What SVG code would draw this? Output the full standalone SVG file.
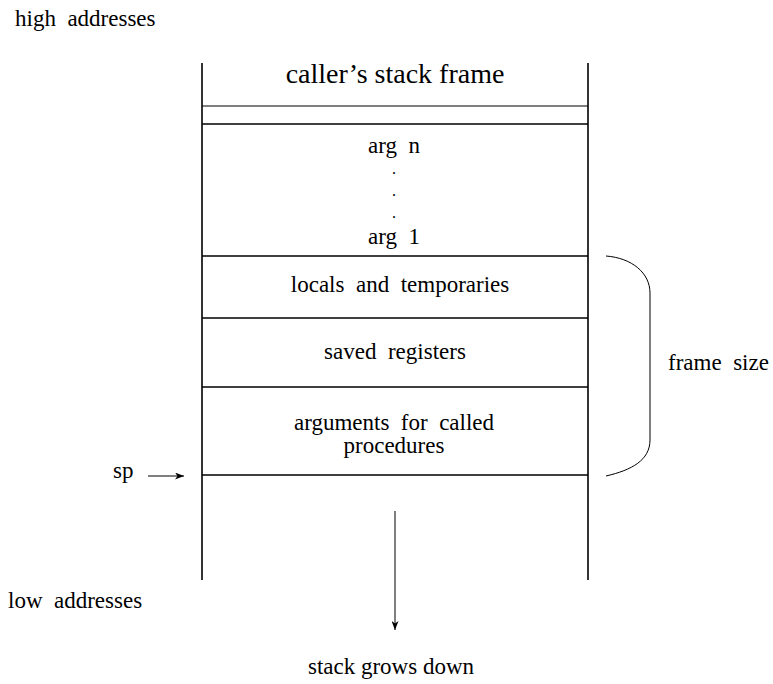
<svg xmlns="http://www.w3.org/2000/svg" width="773" height="684" viewBox="0 0 773 684">
<defs>
<style>
text{font-family:"Liberation Serif","Times New Roman",serif;font-size:23px;fill:#000;white-space:pre}
.c{text-anchor:middle}
.big{font-size:28px}
.dot{font-size:16px}
.ln{stroke:#000;stroke-width:1.6;fill:none}
.thin{stroke:#000;stroke-width:1;fill:none}
</style>
<marker id="ah" markerWidth="9" markerHeight="7" refX="9" refY="3.5" orient="auto" markerUnits="userSpaceOnUse">
<path d="M0,0 L9,3.5 L0,7 L2.5,3.5 Z" fill="#000"/>
</marker>
</defs>
<rect width="773" height="684" fill="#fff"/>
<text x="15" y="26">high  addresses</text>
<text x="8" y="608">low  addresses</text>
<g id="stack">
<line class="ln" x1="202" y1="63" x2="202" y2="580"/>
<line class="ln" x1="588" y1="63" x2="588" y2="580"/>
<line class="thin" x1="202" y1="106" x2="588" y2="106"/>
</g>
<g id="caller"><text class="c big" x="395" y="83">caller’s stack frame</text></g>
<g id="args">
<line class="ln" x1="202" y1="124" x2="588" y2="124"/>
<text class="c" x="394" y="153">arg  n</text>
<text class="c dot" x="394" y="174">.</text>
<text class="c dot" x="394" y="196">.</text>
<text class="c dot" x="394" y="218">.</text>
<text class="c" x="394" y="244">arg  1</text>
</g>
<g id="locals">
<line class="ln" x1="202" y1="256" x2="588" y2="256"/>
<text class="c" x="400" y="292">locals  and  temporaries</text>
</g>
<g id="saved">
<line class="ln" x1="202" y1="318" x2="588" y2="318"/>
<text class="c" x="395" y="359">saved  registers</text>
</g>
<g id="argsout">
<line class="ln" x1="202" y1="387" x2="588" y2="387"/>
<text class="c" x="394" y="430">arguments  for  called</text>
<text class="c" x="394" y="453">procedures</text>
<line class="ln" x1="202" y1="475" x2="588" y2="475"/>
</g>
<g id="framesize">
<path class="thin" d="M606,256 C632,258 650,273 650,293 L650,440 C650,460 632,470 606,476"/>
<text x="668" y="370">frame  size</text>
</g>
<g id="sp"><text x="113" y="478">sp</text></g>
<g id="growth"><text class="c" x="391" y="674">stack grows down</text></g>
<g id="connectors">
<line class="thin" x1="148" y1="476" x2="184" y2="476" marker-end="url(#ah)"/>
<line class="thin" x1="395" y1="511" x2="395" y2="630" marker-end="url(#ah)"/>
</g>
</svg>
